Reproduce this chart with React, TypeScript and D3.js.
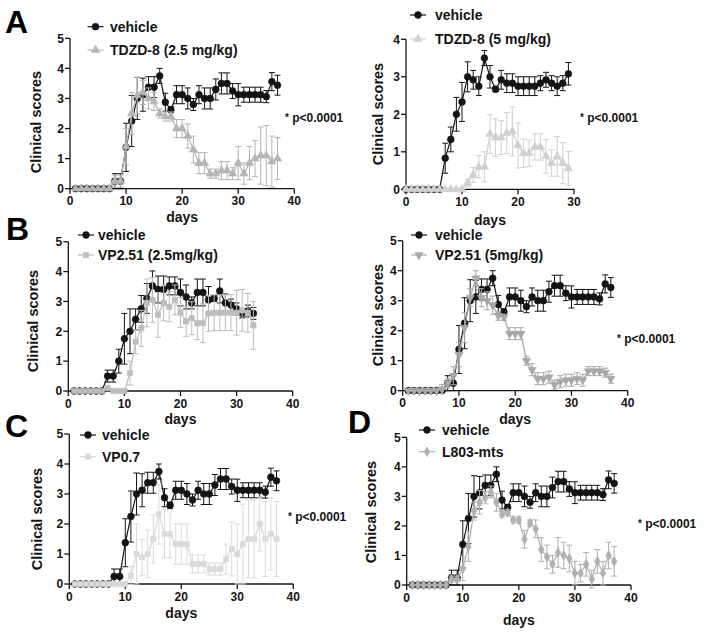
import React from "react";
import * as d3 from "d3";

// ---------- data ----------
const vehicleStart = 1;
const vehicleMean = [0,0,0,0,0,0,0,0.25,0.25,1.375,2.25,3.0,3.125,3.375,3.375,3.75,2.875,2.625,3.125,3.125,3.0,2.8,3.125,3.0,3.0,3.3,3.5,3.5,3.25,3.125,3.125,3.125,3.125,3.125,3.06,3.56,3.44];
const vehicleErr = [0,0,0,0,0,0,0,0.25,0.25,0.8,0.85,0.7,0.55,0.35,0.35,0.25,0.3,0.1,0.3,0.3,0.35,0.2,0.3,0.35,0.35,0.35,0.35,0.35,0.25,0.37,0.25,0.25,0.25,0.25,0.2,0.3,0.33];

const tdzd25Start = 1;
const tdzd25Mean = [0,0,0,0,0,0,0,0.25,0.25,1.4,2.5,3.1,3.2,3.0,2.9,2.5,2.4,2.4,2.0,2.0,1.75,1.3,0.85,0.85,0.5,0.5,0.6,0.6,0.5,0.85,0.5,0.85,1.0,1.1,1.1,0.9,1.0];
const tdzd25Err = [0,0,0,0,0,0,0,0.2,0.2,0.6,0.7,0.6,0.4,0.35,0.3,0.15,0.15,0.15,0.3,0.3,0.4,0.45,0.35,0.35,0.15,0.15,0.3,0.3,0.2,0.55,0.35,0.55,0.6,0.95,1.0,0.85,0.7];

const vehicle2Start = 0;
const vehicle2Mean = [0,0,0,0,0,0,0,0.83,1.33,2.0,2.33,3.0,2.92,2.75,3.5,3.0,2.67,2.92,2.83,2.83,2.75,2.75,2.75,2.75,2.83,2.92,2.83,2.75,2.83,3.08];
const vehicle2Err = [0,0,0,0,0,0,0,0.4,0.33,0.45,0.52,0.4,0.25,0.25,0.2,0.3,0.07,0.25,0.25,0.25,0.25,0.25,0.25,0.25,0.2,0.2,0.2,0.25,0.2,0.3];

const tdzd5Start = 0;
const tdzd5Mean = [0,0,0,0,0,0,0,0,0,0,0,0.17,0.38,0.6,0.6,1.47,1.38,1.38,1.5,1.54,1.17,0.96,0.96,1.13,1.13,0.88,0.7,0.88,0.7,0.56];
const tdzd5Err = [0,0,0,0,0,0,0,0,0,0,0,0.1,0.2,0.3,0.4,0.52,0.5,0.45,0.55,0.65,0.6,0.38,0.35,0.35,0.35,0.45,0.35,0.53,0.55,0.45];

const vehicle3Start = 1;
const vehicle3Mean = [0,0,0,0,0,0,0.5,0.5,1.0,1.75,2.0,2.4,2.75,3.1,3.52,3.4,3.4,3.52,3.52,3.3,3.15,2.95,3.3,3.3,3.05,3.1,3.35,2.95,2.88,2.75,2.6,2.68,2.6];
const vehicle3Err = [0,0,0,0,0,0,0.2,0.2,0.4,0.85,0.75,0.35,0.45,0.5,0.5,0.45,0.45,0.3,0.3,0.45,0.4,0.2,0.45,0.45,0.45,0.1,0.4,0.3,0.2,0.2,0.15,0.2,0.2];

const vp251_25Start = 1;
const vp251_25Mean = [0,0,0,0,0,0,0.1,0,0,0,0.6,1.65,2.1,2.95,3.05,2.55,2.95,2.82,3.05,2.63,2.33,2.44,2.27,2.27,2.6,2.62,2.62,2.62,2.62,2.62,2.7,2.62,2.2];
const vp251_25Err = [0,0,0,0,0,0,0,0,0,0,0.4,0.4,0.6,0.8,0.75,0.75,0.6,0.5,0.5,0.5,0.5,0.55,0.55,0.65,0.6,0.6,0.6,0.6,0.6,0.75,0.7,0.65,0.8];

const vp251_5Start = 1;
const vp251_5Mean = [0,0,0,0,0,0,0.05,0.25,0.5,1.2,2.1,3.1,3.75,3.1,3.0,2.85,2.5,2.45,1.9,1.9,1.9,1.0,0.7,0.4,0.4,0.45,0.2,0.3,0.35,0.35,0.4,0.35,0.65,0.65,0.65,0.6,0.4];
const vp251_5Err = [0,0,0,0,0,0,0.15,0.15,0.3,0.4,0.5,0.3,0.25,0.3,0.3,0.3,0.15,0.1,0.2,0.2,0.2,0.15,0.2,0.2,0.2,0.2,0.15,0.2,0.2,0.2,0.2,0.2,0.15,0.15,0.15,0.15,0.15];

const vp07Start = 1;
const vp07Mean = [0,0,0,0,0,0,0,0,0,0,0.28,1.0,0.89,1.0,1.5,2.33,1.67,1.67,1.33,1.33,1.33,0.67,0.67,0.67,0.5,0.5,0.5,0.83,1.17,1.0,1.33,1.5,1.5,2.0,1.5,1.67,1.5];
const vp07Err = [0,0,0,0,0,0,0,0,0,0,0.3,1.0,0.6,0.8,0.8,1.0,0.8,0.8,0.67,0.67,0.67,0.3,0.3,0.3,0.2,0.2,0.2,0.5,0.9,1.0,1.33,1.3,1.3,0.9,1.25,1.2,1.25];

const l803Start = 1;
const l803Mean = [0,0,0,0,0,0,0,0.2,0.2,0.55,1.3,2.5,2.8,2.95,3.15,2.8,2.4,2.45,2.2,2.2,1.55,2.1,1.9,1.2,0.95,0.7,1.1,1.0,0.9,0.4,0.4,0.7,0.2,0.8,0.4,1.0,0.8];
const l803Err = [0,0,0,0,0,0,0,0.1,0.1,0.4,0.5,0.3,0.4,0.2,0.2,0.3,0.1,0.1,0.1,0.1,0.3,0.1,0.3,0.4,0.4,0.3,0.5,0.45,0.45,0.4,0.3,0.4,0.3,0.4,0.4,0.45,0.5];

const xTicks40 = [0, 10, 20, 30, 40];
const xTicks30 = [0, 10, 20, 30];
const yTicks5 = [0, 1, 2, 3, 4, 5];
const yTicks4 = [0, 1, 2, 3, 4];

const FONT = "'Liberation Sans', Arial, Helvetica, sans-serif";
const BLACK = "#141414";

type Series = { label: string; start: number; mean: number[]; err: number[]; color: string; shape: string };

const symbolOf: Record<string, d3.SymbolType> = {
  circle: d3.symbolCircle,
  triangle: d3.symbolTriangle,
  square: d3.symbolSquare,
  diamond: d3.symbolDiamond,
  tdown: d3.symbolTriangle,
};
const sizeOf: Record<string, number> = { circle: 36, triangle: 30, square: 28, diamond: 28, tdown: 30 };

function Marker({ x, y, s }: { x: number; y: number; s: Series }) {
  const path = d3.symbol().type(symbolOf[s.shape]).size(sizeOf[s.shape])()!;
  const rot = s.shape === "tdown" ? 180 : 0;
  return <path d={path} transform={`translate(${x},${y}) rotate(${rot})`} fill={s.color} stroke={s.color} strokeWidth={0.6} />;
}

type PanelCfg = {
  px0: number; px1: number; py0: number; py1: number; xMax: number; yMax: number;
  xTicks: number[]; yTicks: number[]; series: Series[];
  legMarkerX: number; legTextX: number; legY: number[];
  yLabelX: number; yLabelY: number; daysY: number;
  pX?: number; pY?: number;
  letter?: string; letterX?: number; letterY?: number;
};

function Panel({ c }: { c: PanelCfg }) {
  const x = d3.scaleLinear().domain([0, c.xMax]).range([c.px0, c.px1]);
  const y = d3.scaleLinear().domain([0, c.yMax]).range([c.py0, c.py1]);
  const line = d3.line<[number, number]>().x((d) => x(d[0])).y((d) => y(d[1]));
  const cap = 3;
  return (
    <g fontFamily={FONT} fontWeight="bold">
      {/* axes */}
      <line x1={x(0)} x2={x(0)} y1={y(0)} y2={y(c.yMax)} stroke={BLACK} strokeWidth={1.3} />
      {c.yTicks.map((t) => (
        <g key={"y" + t}>
          <line x1={x(0) - 5} x2={x(0)} y1={y(t)} y2={y(t)} stroke={BLACK} strokeWidth={1.3} />
          <text x={x(0) - 6} y={y(t) + 4.3} fontSize={12} textAnchor="end" fill={BLACK}>{t}</text>
        </g>
      ))}
      <line x1={x(0)} x2={x(c.xMax)} y1={y(0)} y2={y(0)} stroke={BLACK} strokeWidth={1.3} />
      {c.xTicks.map((t) => (
        <g key={"x" + t}>
          <line x1={x(t)} x2={x(t)} y1={y(0)} y2={y(0) + 5} stroke={BLACK} strokeWidth={1.3} />
          <text x={x(t)} y={y(0) + 16.5} fontSize={12} textAnchor="middle" fill={BLACK}>{t}</text>
        </g>
      ))}
      <text x={(c.px0 + c.px1) / 2} y={c.daysY + 5.5} fontSize={14} textAnchor="middle" fill={BLACK}>days</text>
      <text transform={`translate(${c.yLabelX + 5},${c.yLabelY}) rotate(-90)`} fontSize={14.5} textAnchor="middle" fill={BLACK}>Clinical scores</text>
      {/* series */}
      {c.series.map((s, si) => {
        const pts: [number, number][] = s.mean.map((m, i) => [s.start + i, m]);
        return (
          <g key={"s" + si}>
            {pts.map((p, i) =>
              s.err[i] > 0 ? (
                <g key={"e" + i} stroke={s.color} strokeWidth={1}>
                  <line x1={x(p[0])} x2={x(p[0])} y1={y(p[1] - s.err[i])} y2={y(p[1] + s.err[i])} />
                  <line x1={x(p[0]) - cap} x2={x(p[0]) + cap} y1={y(p[1] + s.err[i])} y2={y(p[1] + s.err[i])} />
                  <line x1={x(p[0]) - cap} x2={x(p[0]) + cap} y1={y(p[1] - s.err[i])} y2={y(p[1] - s.err[i])} />
                </g>
              ) : null
            )}
            <path d={line(pts)!} fill="none" stroke={s.color} strokeWidth={1.2} />
            {pts.map((p, i) => (
              <Marker key={"m" + i} x={x(p[0])} y={y(p[1])} s={s} />
            ))}
          </g>
        );
      })}
      {/* legend */}
      {c.series.map((s, si) => (
        <g key={"l" + si}>
          <line x1={c.legMarkerX - 8} x2={c.legMarkerX + 8} y1={c.legY[si]} y2={c.legY[si]} stroke={s.color} strokeWidth={1.2} />
          <Marker x={c.legMarkerX} y={c.legY[si]} s={s} />
          <text x={c.legTextX} y={c.legY[si] + 5} fontSize={14} fill={BLACK}>{s.label}</text>
        </g>
      ))}
      {c.pX !== undefined && (
        <text x={c.pX} y={(c.pY as number) + 4.5} fontSize={12} fill={BLACK}>
          <tspan fontSize={10} dy={-1}>*</tspan>
          <tspan dy={1}> p&lt;0.0001</tspan>
        </text>
      )}
      {c.letter && (
        <text x={c.letterX} y={c.letterY} fontSize={32} fontWeight="bold" fill="#000">{c.letter}</text>
      )}
    </g>
  );
}

const vehicle: Series = { label: "vehicle", start: vehicleStart, mean: vehicleMean, err: vehicleErr, color: BLACK, shape: "circle" };

const panels: PanelCfg[] = [
  {
    px0: 70, px1: 294.3, py0: 188.7, py1: 38.3, xMax: 40, yMax: 5, xTicks: xTicks40, yTicks: yTicks5,
    series: [vehicle, { label: "TDZD-8 (2.5 mg/kg)", start: tdzd25Start, mean: tdzd25Mean, err: tdzd25Err, color: "#b5b5b5", shape: "triangle" }],
    legMarkerX: 95.5, legTextX: 110, legY: [26.7, 50], yLabelX: 36, yLabelY: 122, daysY: 216,
    pX: 285, pY: 117, letter: "A", letterX: 5, letterY: 33,
  },
  {
    px0: 406, px1: 574, py0: 189.3, py1: 39.3, xMax: 30, yMax: 4, xTicks: xTicks30, yTicks: yTicks4,
    series: [
      { label: "vehicle", start: vehicle2Start, mean: vehicle2Mean, err: vehicle2Err, color: BLACK, shape: "circle" },
      { label: "TDZD-8 (5 mg/kg)", start: tdzd5Start, mean: tdzd5Mean, err: tdzd5Err, color: "#d0d0d0", shape: "triangle" },
    ],
    legMarkerX: 418, legTextX: 435, legY: [15, 39], yLabelX: 378, yLabelY: 114, daysY: 219,
    pX: 580, pY: 117,
  },
  {
    px0: 68.3, px1: 292.7, py0: 391, py1: 241.7, xMax: 40, yMax: 5, xTicks: xTicks40, yTicks: yTicks5,
    series: [
      { label: "vehicle", start: vehicle3Start, mean: vehicle3Mean, err: vehicle3Err, color: BLACK, shape: "circle" },
      { label: "VP2.51 (2.5mg/kg)", start: vp251_25Start, mean: vp251_25Mean, err: vp251_25Err, color: "#bdbdbd", shape: "square" },
    ],
    legMarkerX: 86, legTextX: 98, legY: [235, 255], yLabelX: 33, yLabelY: 321, daysY: 418,
    letter: "B", letterX: 6, letterY: 240,
  },
  {
    px0: 402.7, px1: 627.7, py0: 390.7, py1: 240.7, xMax: 40, yMax: 5, xTicks: xTicks40, yTicks: yTicks5,
    series: [vehicle, { label: "VP2.51 (5mg/kg)", start: vp251_5Start, mean: vp251_5Mean, err: vp251_5Err, color: "#a8a8a8", shape: "tdown" }],
    legMarkerX: 419, legTextX: 435, legY: [235, 255], yLabelX: 378, yLabelY: 315, daysY: 418,
    pX: 617, pY: 338,
  },
  {
    px0: 69.3, px1: 293.3, py0: 584, py1: 434, xMax: 40, yMax: 5, xTicks: xTicks40, yTicks: yTicks5,
    series: [vehicle, { label: "VP0.7", start: vp07Start, mean: vp07Mean, err: vp07Err, color: "#dadada", shape: "square" }],
    legMarkerX: 88, legTextX: 102, legY: [435, 456.7], yLabelX: 37, yLabelY: 519, daysY: 612,
    pX: 288, pY: 516, letter: "C", letterX: 5, letterY: 437,
  },
  {
    px0: 406.7, px1: 631, py0: 585, py1: 437.3, xMax: 40, yMax: 5, xTicks: xTicks40, yTicks: yTicks5,
    series: [vehicle, { label: "L803-mts", start: l803Start, mean: l803Mean, err: l803Err, color: "#b0b0b0", shape: "diamond" }],
    legMarkerX: 427, legTextX: 442, legY: [430, 451.7], yLabelX: 371, yLabelY: 512, daysY: 619,
    pX: 638, pY: 523, letter: "D", letterX: 348, letterY: 433,
  },
];

export default function App() {
  return (
    <svg width={704} height={632} style={{ position: "absolute", left: 0, top: 0, background: "#fff" }}>
      <rect width={704} height={632} fill="#fff" />
      {panels.map((c, i) => (
        <Panel key={i} c={c} />
      ))}
    </svg>
  );
}
